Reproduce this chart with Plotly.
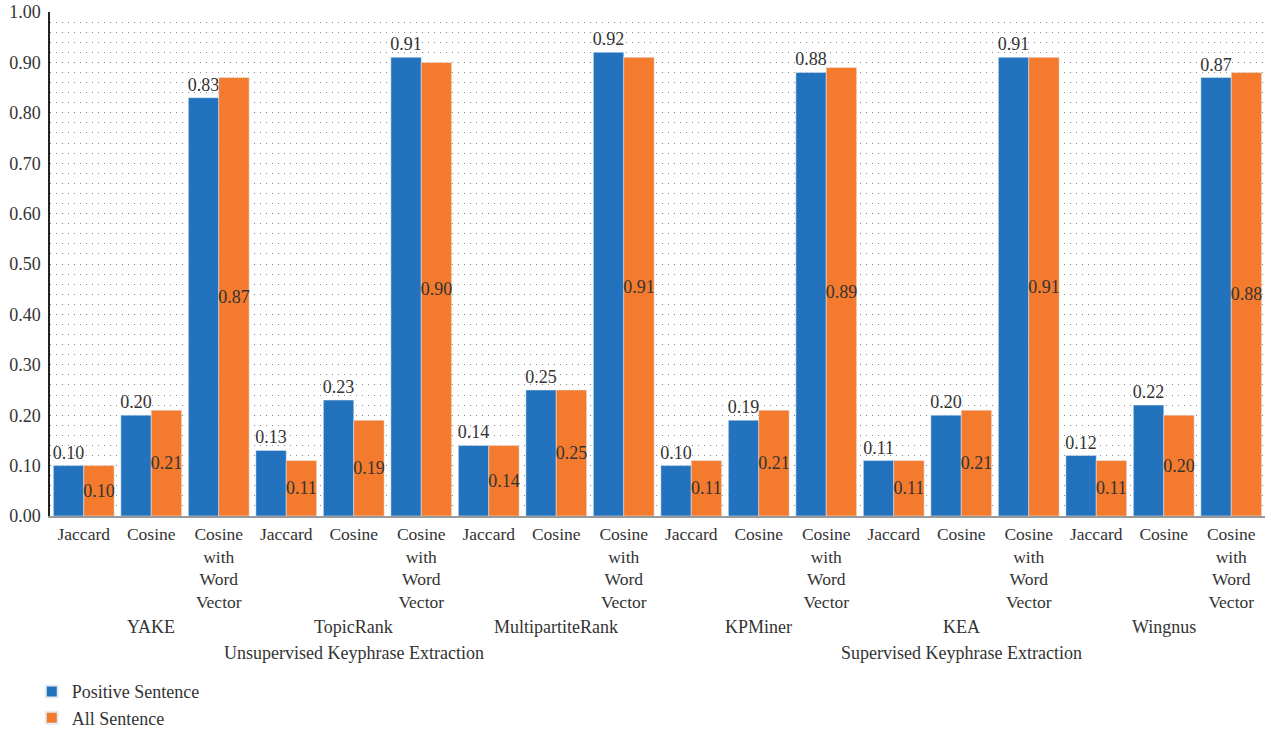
import plotly.graph_objects as go

methods = ["YAKE", "TopicRank", "MultipartiteRank", "KPMiner", "KEA", "Wingnus"]
measures = ["Jaccard", "Cosine", "Cosine<br>with<br>Word<br>Vector"]
supergroups = ["Unsupervised Keyphrase Extraction", "Supervised Keyphrase Extraction"]

positive = [0.10, 0.20, 0.83,
            0.13, 0.23, 0.91,
            0.14, 0.25, 0.92,
            0.10, 0.19, 0.88,
            0.11, 0.20, 0.91,
            0.12, 0.22, 0.87]
all_sent = [0.10, 0.21, 0.87,
            0.11, 0.19, 0.90,
            0.14, 0.25, 0.91,
            0.11, 0.21, 0.89,
            0.11, 0.21, 0.91,
            0.11, 0.20, 0.88]

yticks = [i / 10 for i in range(11)]

FONT = "Liberation Serif"
TXT = "#333333"
BLUE = "#2372BD"
ORANGE = "#F47B2E"
FS = 18

n = len(methods) * len(measures)
xs = list(range(n))
ticktext = [measures[i % 3] for i in xs]

fig = go.Figure()
fig.add_trace(go.Bar(
    x=xs, y=positive, name="Positive Sentence", marker_color=BLUE,
    text=[f"{v:.2f}" for v in positive], textposition="outside", textangle=0,
    textfont=dict(family=FONT, size=FS, color=TXT), constraintext="none",
    cliponaxis=False,
))
fig.add_trace(go.Bar(
    x=xs, y=all_sent, name="All Sentence", marker_color=ORANGE,
    text=[f"{v:.2f}" for v in all_sent], textposition="inside", textangle=0,
    insidetextanchor="middle",
    textfont=dict(family=FONT, size=FS, color=TXT), constraintext="none",
))

annotations = []
for gi, m in enumerate(methods):
    annotations.append(dict(
        x=gi * 3 + 1, xref="x", y=-0.220, yref="paper", text=m,
        showarrow=False, yanchor="middle",
        font=dict(family=FONT, size=FS, color=TXT)))
for si, s in enumerate(supergroups):
    annotations.append(dict(
        x=si * 9 + 4, xref="x", y=-0.272, yref="paper", text=s,
        showarrow=False, yanchor="middle",
        font=dict(family=FONT, size=FS, color=TXT)))

fig.update_layout(
    width=1271, height=731,
    margin=dict(l=50, r=6, t=12, b=215, autoexpand=False),
    plot_bgcolor="white", paper_bgcolor="white",
    barmode="group", bargap=0.1, bargroupgap=0,
    font=dict(family=FONT, size=FS, color=TXT),
    showlegend=True,
    legend=dict(orientation="v", xref="container", x=0.025, xanchor="left",
                yref="container", y=0.079, yanchor="top",
                font=dict(family=FONT, size=FS, color=TXT),
                itemsizing="constant", tracegroupgap=0, traceorder="normal"),
    annotations=annotations,
)
fig.update_xaxes(
    tickmode="array", tickvals=xs, ticktext=ticktext,
    range=[-0.5, n - 0.5], showgrid=False, ticks="",
    showline=True, linecolor="#9a9a9a", linewidth=1.5,
    tickfont=dict(family=FONT, size=17.5, color=TXT), zeroline=False,
    ticklabelstandoff=1,
)
fig.update_yaxes(
    range=[0, 1.0], tickmode="array", tickvals=yticks,
    ticktext=[f"{v:.2f}" for v in yticks],
    showgrid=True, gridcolor="#777777", gridwidth=1, griddash="1px,11px",
    minor=dict(dtick=0.02, showgrid=True, gridcolor="#888888", gridwidth=1,
               griddash="1px,5px"),
    showline=True, linecolor="#222222", linewidth=1.5, zeroline=False,
    ticks="", tickfont=dict(family=FONT, size=FS, color=TXT),
    ticklabelstandoff=4,
)

fig.write_html("out.html")
